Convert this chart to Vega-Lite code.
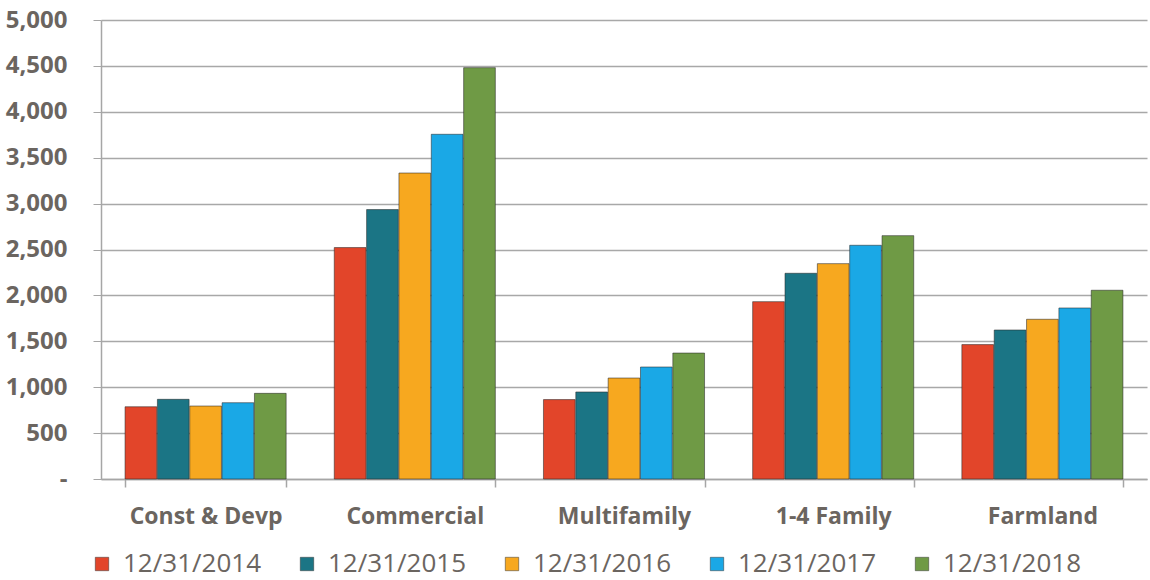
{
  "$schema": "https://vega.github.io/schema/vega-lite/v6.json",
  "width": 1046,
  "height": 459,
  "padding": {"left": 5, "right": 2, "top": 8, "bottom": 4},
  "background": "white",
  "config": {
    "view": {"stroke": null},
    "font": "Open Sans"
  },
  "data": {
    "values": [
      {"category": "Const & Devp", "date": "12/31/2014", "value": 787},
      {"category": "Const & Devp", "date": "12/31/2015", "value": 868},
      {"category": "Const & Devp", "date": "12/31/2016", "value": 795},
      {"category": "Const & Devp", "date": "12/31/2017", "value": 831},
      {"category": "Const & Devp", "date": "12/31/2018", "value": 933},
      {"category": "Commercial", "date": "12/31/2014", "value": 2521},
      {"category": "Commercial", "date": "12/31/2015", "value": 2935},
      {"category": "Commercial", "date": "12/31/2016", "value": 3333},
      {"category": "Commercial", "date": "12/31/2017", "value": 3755},
      {"category": "Commercial", "date": "12/31/2018", "value": 4481},
      {"category": "Multifamily", "date": "12/31/2014", "value": 865},
      {"category": "Multifamily", "date": "12/31/2015", "value": 948},
      {"category": "Multifamily", "date": "12/31/2016", "value": 1100},
      {"category": "Multifamily", "date": "12/31/2017", "value": 1220},
      {"category": "Multifamily", "date": "12/31/2018", "value": 1372},
      {"category": "1-4 Family", "date": "12/31/2014", "value": 1932},
      {"category": "1-4 Family", "date": "12/31/2015", "value": 2241},
      {"category": "1-4 Family", "date": "12/31/2016", "value": 2346},
      {"category": "1-4 Family", "date": "12/31/2017", "value": 2546},
      {"category": "1-4 Family", "date": "12/31/2018", "value": 2651},
      {"category": "Farmland", "date": "12/31/2014", "value": 1464},
      {"category": "Farmland", "date": "12/31/2015", "value": 1623},
      {"category": "Farmland", "date": "12/31/2016", "value": 1740},
      {"category": "Farmland", "date": "12/31/2017", "value": 1863},
      {"category": "Farmland", "date": "12/31/2018", "value": 2056}
    ]
  },
  "mark": {"type": "bar", "stroke": "#2a2a2a", "strokeOpacity": 0.55, "strokeWidth": 1},
  "encoding": {
    "x": {
      "field": "category",
      "type": "nominal",
      "sort": null,
      "scale": {"paddingInner": 0.23, "paddingOuter": 0.115},
      "axis": {
        "title": null,
        "labelAngle": 0,
        "labelFont": "Open Sans",
        "labelFontSize": 23,
        "labelFontWeight": "bold",
        "labelColor": "#6b6560",
        "labelPadding": 18,
        "domainColor": "#a6a6a6",
        "domainWidth": 1.5,
        "tickBand": "extent",
        "tickColor": "#a6a6a6",
        "tickWidth": 1.5,
        "tickSize": 8
      }
    },
    "xOffset": {
      "field": "date",
      "type": "nominal",
      "scale": {"paddingInner": 0.02}
    },
    "y": {
      "field": "value",
      "type": "quantitative",
      "scale": {"domain": [0, 5000], "nice": false},
      "axis": {
        "title": null,
        "values": [0, 500, 1000, 1500, 2000, 2500, 3000, 3500, 4000, 4500, 5000],
        "labelExpr": "datum.value == 0 ? '-' : format(datum.value, ',')",
        "labelFont": "Open Sans",
        "labelFontSize": 24,
        "labelFontWeight": "bold",
        "labelColor": "#6b6560",
        "labelPadding": 26,
        "grid": true,
        "gridColor": "#a8a8a8",
        "gridWidth": 1.5,
        "domainColor": "#a6a6a6",
        "domainWidth": 1.5,
        "ticks": true,
        "tickColor": "#a6a6a6",
        "tickSize": 8
      }
    },
    "color": {
      "field": "date",
      "type": "nominal",
      "scale": {
        "domain": ["12/31/2014", "12/31/2015", "12/31/2016", "12/31/2017", "12/31/2018"],
        "range": ["#e2452a", "#1b7585", "#f7a81f", "#1aa8e6", "#6f9a45"]
      },
      "legend": {
        "title": null,
        "orient": "none",
        "legendX": -12,
        "legendY": 531,
        "direction": "horizontal",
        "symbolType": "square",
        "symbolSize": 180,
        "symbolStrokeColor": "#333",
        "symbolStrokeWidth": 0.5,
        "labelFont": "Open Sans",
        "labelFontSize": 26,
        "labelColor": "#6b6560",
        "labelOffset": 8,
        "columnPadding": 33,
        "labelLimit": 300
      }
    }
  }
}
